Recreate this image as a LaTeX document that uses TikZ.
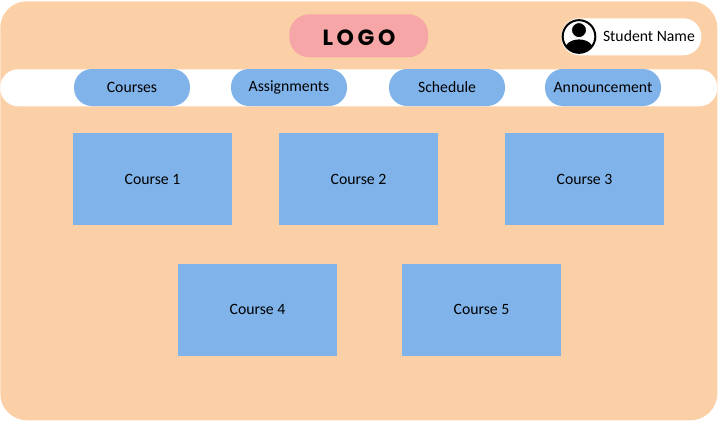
\documentclass[tikz,border=0pt]{standalone}
\usepackage{fontspec}
\setmainfont{Carlito}
\newfontfamily\logofont{Poppins}
\definecolor{panelc}{HTML}{FCD0A7}
\definecolor{bluec}{HTML}{7FB3EA}
\definecolor{pinkc}{HTML}{F6A6A6}
\tikzset{
  px/.style={x=0.75pt,y=-0.75pt},
  boxbase/.style={inner sep=0pt,outer sep=0pt,text=black,font=\fontsize{11.8pt}{13pt}\selectfont},
  tabpill/.style={boxbase,fill=bluec,rounded corners=13.5pt,minimum width=87pt,minimum height=27.75pt},
  coursebox/.style={boxbase,fill=bluec,minimum width=119.25pt,minimum height=69pt},
}
\begin{document}
\begin{tikzpicture}[px]
\useasboundingbox (0,0) rectangle (718,421);
\fill[white] (0,0) rectangle (718,421);
\node[fill=panelc,rounded corners=20pt,inner sep=0pt,minimum width=537.75pt,minimum height=314.25pt,anchor=north west] (panel) at (0,1) {};
\node[fill=white,rounded corners=13.5pt,inner sep=0pt,minimum width=537.75pt,minimum height=27.75pt,anchor=north west] (bar) at (0,69) {};
\node[fill=pinkc,rounded corners=15pt,inner sep=0pt,minimum width=104.25pt,minimum height=32.25pt,anchor=north west] (logo) at (289,14) {};
\node[font=\logofont\bfseries\fontsize{16.5pt}{18pt}\selectfont,inner sep=0pt] (logotext) at (359,38) {\addfontfeatures{LetterSpace=16}L\,O\,G\,O};
\node[fill=white,rounded corners=13.5pt,inner sep=0pt,minimum width=105pt,minimum height=27.75pt,anchor=north west] (pill) at (561,18) {};
\node[boxbase,anchor=west] (student) at (603,36) {Student Name};
\node[circle,draw=black,line width=1.5pt,fill=white,minimum size=24.5pt,inner sep=0pt] (avatar) at (579,36.5) {};
\begin{scope}
\clip (avatar.center) circle[radius=12.25pt];
\fill[black] ([yshift=1.8pt]avatar.south) ellipse[x radius=11.5pt,y radius=9pt];
\end{scope}
\fill[black,draw=white,line width=0.6pt] ([yshift=4.8pt]avatar.center) circle[radius=5.6pt];
\node[tabpill] (t1) at (132,87.5) {Courses};
\node[tabpill] (t2) at (289,87.5) {Assignments};
\node[tabpill] (t3) at (447,87.5) {Schedule};
\node[tabpill] (t4) at (603,87.5) {Announcement};
\node[coursebox] (c1) at (152.5,179) {Course 1};
\node[coursebox] (c2) at (358.5,179) {Course 2};
\node[coursebox] (c3) at (584.5,179) {Course 3};
\node[coursebox] (c4) at (257.5,309.5) {Course 4};
\node[coursebox] (c5) at (481.5,309.5) {Course 5};
\end{tikzpicture}
\end{document}
